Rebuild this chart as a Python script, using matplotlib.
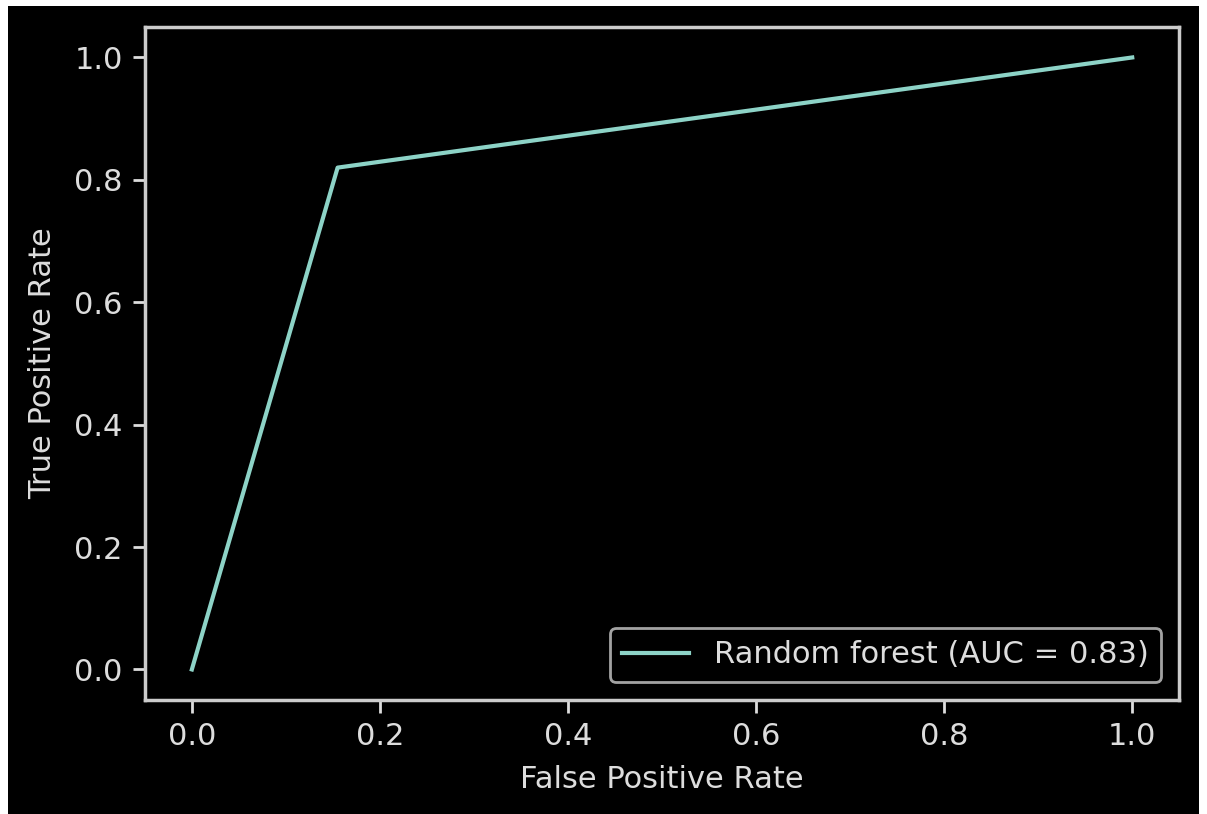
import matplotlib.pyplot as plt
from matplotlib.patches import Rectangle

# ROC curve points
fpr = [0.0, 0.155, 1.0]
tpr = [0.0, 0.82, 1.0]
auc_score = 0.83
x_ticks = [0.0, 0.2, 0.4, 0.6, 0.8, 1.0]
y_ticks = [0.0, 0.2, 0.4, 0.6, 0.8, 1.0]

plt.style.use('dark_background')
plt.rcParams['font.family'] = 'DejaVu Sans'

fig = plt.figure(figsize=(12.07, 8.14), dpi=100)
fig.patch.set_facecolor('white')
# black canvas inside a thin white screenshot border
fig.patches.append(Rectangle((8 / 1207, 0), 1191 / 1207, 808 / 814,
                             transform=fig.transFigure, facecolor='black',
                             edgecolor='none', zorder=-10))

ax = fig.add_axes([0.120, 0.140, 0.857, 0.827])
ax.set_facecolor('black')
ax.plot(fpr, tpr, color='#8dd3c7', linewidth=3,
        label=f'Random forest (AUC = {auc_score:.2f})')

fs = 22
ax.set_xticks(x_ticks)
ax.set_yticks(y_ticks)
ax.tick_params(labelsize=fs, colors='#dddddd', length=9, width=2, pad=7)
for sp in ax.spines.values():
    sp.set_color('#cccccc')
    sp.set_linewidth(2.5)
ax.set_xlabel('False Positive Rate', fontsize=fs, color='#dddddd', labelpad=10)
ax.set_ylabel('True Positive Rate', fontsize=fs, color='#dddddd', labelpad=12)

leg = ax.legend(loc='lower right', fontsize=fs, handlelength=2.2,
                borderaxespad=0.6)
leg.get_frame().set_edgecolor('#cccccc')
leg.get_frame().set_linewidth(2)
leg.get_frame().set_facecolor('black')
for t in leg.get_texts():
    t.set_color('#dddddd')

fig.savefig('out.png', dpi=100, facecolor=fig.get_facecolor())
